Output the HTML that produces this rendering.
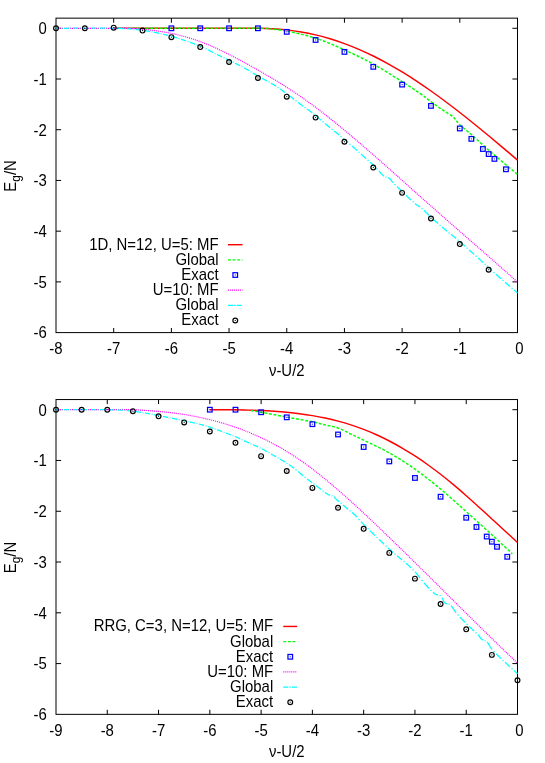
<!DOCTYPE html>
<html><head><meta charset="utf-8"><title>plot</title>
<style>
html,body{margin:0;padding:0;background:#fff;}
svg{display:block;will-change:transform;}
text{font-family:"Liberation Sans",sans-serif;font-size:15.8px;fill:#000;}
</style></head>
<body>
<svg width="545" height="763" viewBox="0 0 545 763">
<rect width="545" height="763" fill="#fff"/>
<rect x="56.00" y="18.15" width="461.50" height="314.45" fill="none" stroke="#000" stroke-width="1"/><path d="M113.69 332.60 v-4.60 M113.69 18.15 v4.60 M171.38 332.60 v-4.60 M171.38 18.15 v4.60 M229.06 332.60 v-4.60 M229.06 18.15 v4.60 M286.75 332.60 v-4.60 M286.75 18.15 v4.60 M344.44 332.60 v-4.60 M344.44 18.15 v4.60 M402.12 332.60 v-4.60 M402.12 18.15 v4.60 M459.81 332.60 v-4.60 M459.81 18.15 v4.60 M56.00 281.88 h5.10 M517.50 281.88 h-5.10 M56.00 231.16 h5.10 M517.50 231.16 h-5.10 M56.00 180.45 h5.10 M517.50 180.45 h-5.10 M56.00 129.73 h5.10 M517.50 129.73 h-5.10 M56.00 79.01 h5.10 M517.50 79.01 h-5.10 M56.00 28.29 h5.10 M517.50 28.29 h-5.10" stroke="#000" stroke-width="1" fill="none"/>
<path d="M113.69 28.29 C116.09 28.29 123.30 28.29 128.11 28.29 C132.92 28.29 137.72 28.29 142.53 28.29 C147.34 28.29 152.15 28.29 156.95 28.29 C161.76 28.29 166.57 28.29 171.38 28.29 C176.18 28.29 180.99 28.29 185.80 28.29 C190.60 28.29 195.41 28.29 200.22 28.29 C205.03 28.29 209.83 28.29 214.64 28.29 C219.45 28.29 224.26 28.29 229.06 28.29 C233.87 28.29 238.68 28.29 243.48 28.29 C248.29 28.29 253.10 28.23 257.91 28.29 C262.71 28.35 267.52 28.40 272.33 28.66 C277.14 28.92 281.94 29.31 286.75 29.86 C291.56 30.40 296.36 31.09 301.17 31.93 C305.98 32.77 310.79 33.77 315.59 34.91 C320.40 36.06 325.21 37.36 330.02 38.81 C334.82 40.26 339.63 41.86 344.44 43.61 C349.24 45.37 354.05 47.28 358.86 49.34 C363.67 51.41 368.47 53.63 373.28 56.00 C378.09 58.37 382.90 60.90 387.70 63.56 C392.51 66.23 397.32 69.05 402.12 71.98 C406.93 74.91 411.74 77.99 416.55 81.16 C421.35 84.34 426.16 87.64 430.97 91.03 C435.78 94.43 440.58 97.93 445.39 101.51 C450.20 105.09 455.01 108.77 459.81 112.51 C464.62 116.25 469.43 120.08 474.23 123.96 C479.04 127.83 483.85 131.78 488.66 135.76 C493.46 139.75 498.27 143.79 503.08 147.85 C507.89 151.92 515.10 158.10 517.50 160.15" fill="none" stroke="#ff0000" stroke-width="1.45" stroke-linejoin="round"/>
<path d="M113.69 28.29 C136.76 28.29 226.18 28.19 252.14 28.29 C278.10 28.39 263.68 28.44 269.44 28.90 C275.21 29.37 279.06 29.54 286.75 31.08 C294.44 32.63 305.98 35.06 315.59 38.18 C325.21 41.31 334.82 45.54 344.44 49.85 C354.05 54.16 363.67 58.75 373.28 64.05 C382.90 69.35 394.34 76.75 402.12 81.65 C409.91 86.55 415.20 90.14 420.01 93.47 C424.82 96.79 427.22 98.83 430.97 101.58 C434.72 104.33 439.02 107.56 442.51 109.95 C446.00 112.34 449.79 114.39 451.91 115.93 C454.02 117.48 453.88 117.78 455.20 119.23 C456.51 120.68 457.12 122.10 459.81 124.66 C462.50 127.21 467.50 131.17 471.35 134.55 C475.20 137.93 479.04 141.52 482.89 144.94 C486.73 148.37 488.66 150.19 494.42 155.09 C500.19 159.99 513.65 171.15 517.50 174.36" fill="none" stroke="#00ff00" stroke-width="1.45" stroke-dasharray="2.9 1.7" stroke-linejoin="round"/>
<rect x="169.07" y="25.99" width="4.60" height="4.60" fill="none" stroke="#0000ff" stroke-width="1.25"/><rect x="170.88" y="27.79" width="1" height="1" fill="#0000ff"/>
<rect x="197.92" y="25.99" width="4.60" height="4.60" fill="none" stroke="#0000ff" stroke-width="1.25"/><rect x="199.72" y="27.79" width="1" height="1" fill="#0000ff"/>
<rect x="226.76" y="25.99" width="4.60" height="4.60" fill="none" stroke="#0000ff" stroke-width="1.25"/><rect x="228.56" y="27.79" width="1" height="1" fill="#0000ff"/>
<rect x="255.61" y="25.99" width="4.60" height="4.60" fill="none" stroke="#0000ff" stroke-width="1.25"/><rect x="257.41" y="27.79" width="1" height="1" fill="#0000ff"/>
<rect x="284.45" y="29.54" width="4.60" height="4.60" fill="none" stroke="#0000ff" stroke-width="1.25"/><rect x="286.25" y="31.34" width="1" height="1" fill="#0000ff"/>
<rect x="313.29" y="37.66" width="4.60" height="4.60" fill="none" stroke="#0000ff" stroke-width="1.25"/><rect x="315.09" y="39.46" width="1" height="1" fill="#0000ff"/>
<rect x="342.14" y="49.58" width="4.60" height="4.60" fill="none" stroke="#0000ff" stroke-width="1.25"/><rect x="343.94" y="51.38" width="1" height="1" fill="#0000ff"/>
<rect x="370.98" y="64.54" width="4.60" height="4.60" fill="none" stroke="#0000ff" stroke-width="1.25"/><rect x="372.78" y="66.34" width="1" height="1" fill="#0000ff"/>
<rect x="399.82" y="82.29" width="4.60" height="4.60" fill="none" stroke="#0000ff" stroke-width="1.25"/><rect x="401.62" y="84.09" width="1" height="1" fill="#0000ff"/>
<rect x="428.67" y="103.59" width="4.60" height="4.60" fill="none" stroke="#0000ff" stroke-width="1.25"/><rect x="430.47" y="105.39" width="1" height="1" fill="#0000ff"/>
<rect x="457.51" y="126.16" width="4.60" height="4.60" fill="none" stroke="#0000ff" stroke-width="1.25"/><rect x="459.31" y="127.96" width="1" height="1" fill="#0000ff"/>
<rect x="469.05" y="136.56" width="4.60" height="4.60" fill="none" stroke="#0000ff" stroke-width="1.25"/><rect x="470.85" y="138.36" width="1" height="1" fill="#0000ff"/>
<rect x="480.59" y="146.70" width="4.60" height="4.60" fill="none" stroke="#0000ff" stroke-width="1.25"/><rect x="482.39" y="148.50" width="1" height="1" fill="#0000ff"/>
<rect x="486.36" y="151.77" width="4.60" height="4.60" fill="none" stroke="#0000ff" stroke-width="1.25"/><rect x="488.16" y="153.57" width="1" height="1" fill="#0000ff"/>
<rect x="492.12" y="156.59" width="4.60" height="4.60" fill="none" stroke="#0000ff" stroke-width="1.25"/><rect x="493.92" y="158.39" width="1" height="1" fill="#0000ff"/>
<rect x="503.66" y="166.99" width="4.60" height="4.60" fill="none" stroke="#0000ff" stroke-width="1.25"/><rect x="505.46" y="168.79" width="1" height="1" fill="#0000ff"/>
<path d="M56.00 28.29 C58.40 28.29 65.61 28.29 70.42 28.29 C75.23 28.29 80.04 28.29 84.84 28.29 C89.65 28.29 94.46 28.29 99.27 28.29 C104.07 28.29 108.88 28.29 113.69 28.29 C118.49 28.29 123.30 28.12 128.11 28.29 C132.92 28.46 137.72 28.87 142.53 29.31 C147.34 29.75 152.15 30.25 156.95 30.93 C161.76 31.62 166.57 32.41 171.38 33.41 C176.18 34.41 180.99 35.54 185.80 36.91 C190.60 38.27 195.41 39.82 200.22 41.59 C205.03 43.35 209.83 45.38 214.64 47.52 C219.45 49.67 224.26 52.04 229.06 54.46 C233.87 56.88 238.68 59.46 243.48 62.05 C248.29 64.64 253.10 67.29 257.91 70.01 C262.71 72.73 267.52 75.50 272.33 78.39 C277.14 81.27 281.94 84.23 286.75 87.32 C291.56 90.41 296.36 93.59 301.17 96.93 C305.98 100.27 310.79 103.75 315.59 107.34 C320.40 110.94 325.21 114.68 330.02 118.49 C334.82 122.30 339.63 126.23 344.44 130.21 C349.24 134.19 354.05 138.26 358.86 142.36 C363.67 146.47 368.47 150.64 373.28 154.84 C378.09 159.04 382.90 163.29 387.70 167.55 C392.51 171.80 397.32 176.10 402.12 180.38 C406.93 184.67 411.74 188.97 416.55 193.25 C421.35 197.53 426.16 201.81 430.97 206.06 C435.78 210.30 440.58 214.53 445.39 218.74 C450.20 222.96 455.01 227.15 459.81 231.34 C464.62 235.54 469.43 239.73 474.23 243.92 C479.04 248.12 483.85 252.32 488.66 256.54 C493.46 260.76 498.27 264.99 503.08 269.25 C507.89 273.52 515.10 279.97 517.50 282.12" fill="none" stroke="#ff00ff" stroke-width="1.2" stroke-dasharray="1 1" stroke-linejoin="round"/>
<path d="M56.00 28.29 L56.30 28.29 L56.60 28.29 L56.90 28.29 L57.20 28.29 L57.50 28.29 L57.80 28.29 L58.10 28.29 L58.40 28.29 L58.70 28.29 L59.00 28.29 L59.30 28.29 L59.60 28.28 L59.90 28.28 L60.10 28.28 M61.60 28.28 L61.90 28.27 L62.20 28.27 L62.50 28.27 M64.00 28.26 L64.30 28.26 L64.60 28.26 L64.90 28.26 L65.20 28.26 L65.50 28.25 L65.80 28.25 L66.10 28.25 L66.40 28.25 L66.70 28.25 L67.00 28.25 L67.30 28.24 L67.60 28.24 L67.90 28.24 L68.20 28.24 L68.50 28.24 L68.80 28.24 L69.10 28.23 M70.60 28.23 L70.90 28.22 L71.20 28.22 L71.50 28.22 M73.00 28.21 L73.30 28.21 L73.60 28.21 L73.90 28.21 L74.20 28.21 L74.50 28.21 L74.80 28.20 L75.10 28.20 L75.40 28.20 L75.70 28.20 L76.00 28.20 L76.30 28.20 L76.60 28.19 L76.90 28.19 L77.20 28.19 L77.50 28.19 L77.80 28.19 L78.10 28.19 M79.60 28.18 L79.90 28.18 L80.20 28.18 L80.50 28.18 M82.00 28.17 L82.30 28.17 L82.60 28.17 L82.90 28.17 L83.20 28.17 L83.50 28.17 L83.80 28.16 L84.10 28.16 L84.40 28.16 L84.70 28.16 L85.00 28.16 L85.30 28.16 L85.60 28.16 L85.90 28.16 L86.20 28.16 L86.50 28.16 L86.80 28.15 L87.10 28.15 M88.60 28.15 L88.90 28.15 L89.20 28.15 L89.50 28.15 M91.00 28.15 L91.30 28.15 L91.60 28.15 L91.90 28.14 L92.20 28.14 L92.50 28.14 L92.80 28.14 L93.10 28.14 L93.40 28.14 L93.70 28.14 L94.00 28.14 L94.30 28.14 L94.60 28.14 L94.90 28.14 L95.20 28.14 L95.50 28.14 L95.80 28.14 L96.10 28.14 M97.60 28.15 L97.90 28.15 L98.20 28.15 L98.50 28.15 M100.00 28.15 L100.30 28.15 L100.60 28.15 L100.90 28.15 L101.20 28.16 L101.50 28.16 L101.80 28.16 L102.10 28.16 L102.40 28.16 L102.70 28.16 L103.00 28.16 L103.30 28.17 L103.60 28.17 L103.90 28.17 L104.20 28.17 L104.50 28.17 L104.80 28.17 L105.10 28.18 M106.60 28.19 L106.90 28.19 L107.20 28.19 L107.50 28.20 M109.00 28.21 L109.30 28.22 L109.60 28.22 L109.90 28.23 L110.20 28.23 L110.50 28.23 L110.80 28.24 L111.10 28.24 L111.40 28.25 L111.70 28.25 L112.00 28.26 L112.30 28.27 L112.60 28.27 L112.90 28.28 L113.20 28.28 L113.50 28.29 L113.80 28.30 L114.10 28.30 M115.60 28.34 L115.90 28.35 L116.20 28.36 L116.50 28.36 M118.00 28.40 L118.30 28.41 L118.60 28.42 L118.90 28.43 L119.20 28.44 L119.50 28.45 L119.80 28.46 L120.10 28.47 L120.40 28.48 L120.70 28.49 L121.00 28.50 L121.30 28.51 L121.60 28.52 L121.90 28.53 L122.20 28.54 L122.50 28.55 L122.80 28.56 L123.10 28.57 M124.60 28.64 L124.90 28.65 L125.20 28.66 L125.50 28.68 M127.00 28.75 L127.30 28.77 L127.60 28.79 L127.90 28.80 L128.20 28.82 L128.50 28.84 L128.80 28.86 L129.10 28.88 L129.40 28.90 L129.70 28.92 L130.00 28.94 L130.30 28.96 L130.60 28.98 L130.90 29.01 L131.20 29.03 L131.50 29.06 L131.80 29.08 L132.10 29.10 M133.60 29.24 L133.90 29.27 L134.20 29.30 L134.50 29.33 M136.00 29.49 L136.30 29.52 L136.60 29.56 L136.90 29.59 L137.20 29.63 L137.50 29.66 L137.80 29.70 L138.10 29.74 L138.40 29.77 L138.70 29.81 L139.00 29.85 L139.30 29.89 L139.60 29.93 L139.90 29.97 L140.20 30.01 L140.50 30.05 L140.80 30.09 L141.10 30.13 M142.60 30.33 L142.90 30.37 L143.20 30.42 L143.50 30.46 M145.00 30.68 L145.30 30.73 L145.60 30.77 L145.90 30.82 L146.20 30.86 L146.50 30.91 L146.80 30.96 L147.10 31.01 L147.40 31.06 L147.70 31.11 L148.00 31.16 L148.30 31.20 L148.60 31.25 L148.90 31.31 L149.20 31.36 L149.50 31.41 L149.80 31.46 L150.10 31.51 M151.60 31.78 L151.90 31.84 L152.20 31.89 L152.50 31.95 M154.00 32.23 L154.30 32.29 L154.60 32.35 L154.90 32.41 L155.20 32.47 L155.50 32.53 L155.80 32.59 L156.10 32.65 L156.40 32.71 L156.70 32.77 L157.00 32.84 L157.30 32.90 L157.60 32.96 L157.90 33.03 L158.20 33.09 L158.50 33.15 L158.80 33.22 L159.10 33.28 M160.60 33.62 L160.90 33.68 L161.20 33.75 L161.50 33.82 M163.00 34.17 L163.30 34.24 L163.60 34.31 L163.90 34.38 L164.20 34.46 L164.50 34.53 L164.80 34.60 L165.10 34.68 L165.40 34.75 L165.70 34.82 L166.00 34.90 L166.30 34.97 L166.60 35.05 L166.90 35.13 L167.20 35.20 L167.50 35.28 L167.80 35.36 L168.10 35.43 M169.60 35.83 L169.90 35.91 L170.20 35.99 L170.50 36.07 M172.00 36.48 L172.30 36.56 L172.60 36.65 L172.90 36.73 L173.20 36.82 L173.50 36.91 L173.80 36.99 L174.10 37.08 L174.40 37.17 L174.70 37.26 L175.00 37.35 L175.30 37.44 L175.60 37.53 L175.90 37.62 L176.20 37.71 L176.50 37.80 L176.80 37.89 L177.10 37.99 M178.60 38.45 L178.90 38.55 L179.20 38.65 L179.50 38.74 M181.00 39.23 L181.30 39.32 L181.60 39.42 L181.90 39.52 L182.20 39.62 L182.50 39.72 L182.80 39.82 L183.10 39.92 L183.40 40.02 L183.70 40.12 L184.00 40.22 L184.30 40.33 L184.60 40.43 L184.90 40.53 L185.20 40.63 L185.50 40.73 L185.80 40.84 L186.10 40.94 M187.60 41.46 L187.90 41.57 L188.20 41.67 L188.50 41.78 M190.00 42.31 L190.30 42.42 L190.60 42.53 L190.90 42.64 L191.20 42.75 L191.50 42.85 L191.80 42.96 L192.10 43.07 L192.40 43.18 L192.70 43.29 L193.00 43.40 L193.30 43.51 L193.60 43.62 L193.90 43.73 L194.20 43.85 L194.50 43.96 L194.80 44.07 L195.10 44.18 M196.60 44.75 L196.90 44.86 L197.20 44.98 L197.50 45.09 M199.00 45.67 L199.30 45.79 L199.60 45.90 L199.90 46.02 L200.20 46.14 L200.50 46.26 L200.80 46.38 L201.10 46.50 L201.40 46.62 L201.70 46.75 L202.00 46.87 L202.30 47.00 L202.60 47.13 L202.90 47.26 L203.20 47.39 L203.50 47.53 L203.80 47.66 L204.10 47.80 M205.60 48.52 L205.90 48.67 L206.20 48.82 L206.50 48.97 M208.00 49.77 L208.30 49.93 L208.60 50.10 L208.90 50.26 L209.20 50.43 L209.50 50.60 L209.80 50.77 L210.10 50.94 L210.40 51.11 L210.70 51.28 L211.00 51.44 L211.30 51.61 L211.60 51.78 L211.90 51.94 L212.20 52.11 L212.50 52.27 L212.80 52.43 L213.10 52.59 M214.60 53.35 L214.90 53.50 L215.20 53.64 L215.50 53.79 M217.00 54.50 L217.30 54.64 L217.60 54.79 L217.90 54.93 L218.20 55.07 L218.50 55.21 L218.80 55.35 L219.10 55.49 L219.40 55.63 L219.70 55.77 L220.00 55.91 L220.30 56.05 L220.60 56.19 L220.90 56.32 L221.20 56.46 L221.50 56.60 L221.80 56.74 L222.10 56.88 M223.60 57.58 L223.90 57.72 L224.20 57.86 L224.50 58.00 M226.00 58.70 L226.30 58.84 L226.60 58.99 L226.90 59.13 L227.20 59.27 L227.50 59.42 L227.80 59.56 L228.10 59.71 L228.40 59.85 L228.70 60.00 L229.00 60.15 L229.30 60.29 L229.60 60.44 L229.90 60.59 L230.20 60.74 L230.50 60.89 L230.80 61.04 L231.10 61.18 M232.60 61.93 L232.90 62.08 L233.20 62.23 L233.50 62.38 M235.00 63.14 L235.30 63.29 L235.60 63.44 L235.90 63.60 L236.20 63.75 L236.50 63.90 L236.80 64.06 L237.10 64.21 L237.40 64.37 L237.70 64.52 L238.00 64.68 L238.30 64.83 L238.60 64.99 L238.90 65.14 L239.20 65.30 L239.50 65.46 L239.80 65.62 L240.10 65.77 M241.60 66.57 L241.90 66.73 L242.20 66.89 L242.50 67.05 M244.00 67.87 L244.30 68.04 L244.60 68.20 L244.90 68.37 L245.20 68.53 L245.50 68.70 L245.80 68.87 L246.10 69.04 L246.40 69.21 L246.70 69.38 L247.00 69.55 L247.30 69.72 L247.60 69.89 L247.90 70.06 L248.20 70.24 L248.50 70.41 L248.80 70.58 L249.10 70.76 M250.60 71.63 L250.90 71.80 L251.20 71.98 L251.50 72.15 M253.00 73.03 L253.30 73.21 L253.60 73.38 L253.90 73.56 L254.20 73.74 L254.50 73.91 L254.80 74.09 L255.10 74.26 L255.40 74.44 L255.70 74.62 L256.00 74.79 L256.30 74.97 L256.60 75.14 L256.90 75.32 L257.20 75.49 L257.50 75.67 L257.80 75.84 L258.10 76.02 M259.60 76.88 L259.90 77.06 L260.20 77.23 L260.50 77.40 M262.00 78.24 L262.30 78.41 L262.60 78.58 L262.90 78.74 L263.20 78.91 L263.50 79.08 L263.80 79.24 L264.10 79.41 L264.40 79.57 L264.70 79.74 L265.00 79.90 L265.30 80.06 L265.60 80.23 L265.90 80.39 L266.20 80.56 L266.50 80.72 L266.80 80.88 L267.10 81.05 M268.60 81.87 L268.90 82.04 L269.20 82.21 L269.50 82.37 M271.00 83.22 L271.30 83.39 L271.60 83.56 L271.90 83.73 L272.20 83.91 L272.50 84.08 L272.80 84.26 L273.10 84.43 L273.40 84.61 L273.70 84.79 L274.00 84.98 L274.30 85.16 L274.60 85.34 L274.90 85.53 L275.20 85.72 L275.50 85.91 L275.80 86.10 L276.10 86.29 M277.60 87.27 L277.90 87.47 L278.20 87.67 L278.50 87.87 M280.00 88.90 L280.30 89.11 L280.60 89.32 L280.90 89.53 L281.20 89.74 L281.50 89.96 L281.80 90.17 L282.10 90.39 L282.40 90.60 L282.70 90.82 L283.00 91.03 L283.30 91.25 L283.60 91.47 L283.90 91.69 L284.20 91.91 L284.50 92.12 L284.80 92.34 L285.10 92.56 M286.60 93.66 L286.90 93.88 L287.20 94.10 L287.50 94.33 M289.00 95.46 L289.30 95.69 L289.60 95.92 L289.90 96.15 L290.20 96.38 L290.50 96.62 L290.80 96.85 L291.10 97.08 L291.40 97.31 L291.70 97.55 L292.00 97.78 L292.30 98.02 L292.60 98.25 L292.90 98.49 L293.20 98.72 L293.50 98.96 L293.80 99.19 L294.10 99.43 M295.60 100.59 L295.90 100.83 L296.20 101.06 L296.50 101.29 M298.00 102.43 L298.30 102.66 L298.60 102.88 L298.90 103.10 L299.20 103.32 L299.50 103.54 L299.80 103.77 L300.10 103.99 L300.40 104.20 L300.70 104.42 L301.00 104.64 L301.30 104.86 L301.60 105.07 L301.90 105.29 L302.20 105.51 L302.50 105.72 L302.80 105.94 L303.10 106.15 M304.60 107.22 L304.90 107.44 L305.20 107.65 L305.50 107.87 M307.00 108.94 L307.30 109.16 L307.60 109.38 L307.90 109.60 L308.20 109.81 L308.50 110.04 L308.80 110.26 L309.10 110.47 L309.40 110.69 L309.70 110.91 L310.00 111.12 L310.30 111.33 L310.60 111.55 L310.90 111.76 L311.20 111.98 L311.50 112.20 L311.80 112.43 L312.10 112.66 M313.60 113.84 L313.90 114.09 L314.20 114.33 L314.50 114.58 M316.00 115.82 L316.30 116.07 L316.60 116.33 L316.90 116.58 L317.20 116.83 L317.50 117.09 L317.80 117.34 L318.10 117.60 L318.40 117.86 L318.70 118.11 L319.00 118.37 L319.30 118.62 L319.60 118.88 L319.90 119.14 L320.20 119.39 L320.50 119.65 L320.80 119.91 L321.10 120.17 M322.60 121.45 L322.90 121.71 L323.20 121.96 L323.50 122.22 M325.00 123.50 L325.30 123.76 L325.60 124.01 L325.90 124.27 L326.20 124.52 L326.50 124.78 L326.80 125.03 L327.10 125.28 L327.40 125.54 L327.70 125.79 L328.00 126.04 L328.30 126.29 L328.60 126.54 L328.90 126.79 L329.20 127.04 L329.50 127.29 L329.80 127.54 L330.10 127.79 M331.60 129.00 L331.90 129.25 L332.20 129.49 L332.50 129.73 M334.00 130.92 L334.30 131.16 L334.60 131.40 L334.90 131.63 L335.20 131.87 L335.50 132.11 L335.80 132.34 L336.10 132.58 L336.40 132.82 L336.70 133.05 L337.00 133.29 L337.30 133.53 L337.60 133.77 L337.90 134.00 L338.20 134.24 L338.50 134.48 L338.80 134.72 L339.10 134.96 M340.60 136.18 L340.90 136.42 L341.20 136.67 L341.50 136.91 M343.00 138.17 L343.30 138.42 L343.60 138.67 L343.90 138.93 L344.20 139.18 L344.50 139.43 L344.80 139.69 L345.10 139.94 L345.40 140.20 L345.70 140.46 L346.00 140.71 L346.30 140.97 L346.60 141.23 L346.90 141.49 L347.20 141.75 L347.50 142.01 L347.80 142.27 L348.10 142.53 M349.60 143.84 L349.90 144.10 L350.20 144.36 L350.50 144.62 M352.00 145.95 L352.30 146.21 L352.60 146.48 L352.90 146.74 L353.20 147.01 L353.50 147.27 L353.80 147.54 L354.10 147.80 L354.40 148.07 L354.70 148.34 L355.00 148.60 L355.30 148.87 L355.60 149.14 L355.90 149.41 L356.20 149.68 L356.50 149.95 L356.80 150.22 L357.10 150.49 M358.60 151.84 L358.90 152.12 L359.20 152.39 L359.50 152.66 M361.00 154.02 L361.30 154.30 L361.60 154.57 L361.90 154.84 L362.20 155.12 L362.50 155.39 L362.80 155.66 L363.10 155.94 L363.40 156.21 L363.70 156.49 L364.00 156.76 L364.30 157.03 L364.60 157.31 L364.90 157.58 L365.20 157.85 L365.50 158.13 L365.80 158.40 L366.10 158.68 M367.60 160.04 L367.90 160.31 L368.20 160.58 L368.50 160.86 M370.00 162.20 L370.30 162.46 L370.60 162.73 L370.90 162.99 L371.20 163.24 L371.50 163.49 L371.80 163.73 L372.10 163.96 L372.40 164.20 L372.70 164.45 L373.00 164.71 L373.30 165.00 L373.60 165.28 L373.90 165.58 L374.20 165.88 L374.50 166.19 L374.80 166.50 L375.10 166.81 M376.60 168.41 L376.90 168.73 L377.20 169.04 L377.50 169.36 M379.00 171.03 L379.30 171.38 L379.60 171.72 L379.90 172.07 L380.20 172.41 L380.50 172.75 L380.80 173.08 L381.10 173.41 L381.40 173.74 L381.70 174.05 L382.00 174.37 L382.30 174.67 L382.60 174.96 L382.90 175.24 L383.20 175.51 L383.50 175.76 L383.80 175.99 L384.10 176.20 M385.60 176.95 L385.90 177.06 L386.20 177.16 L386.50 177.26 M388.00 177.72 L388.30 177.83 L388.60 177.95 L388.90 178.10 L389.20 178.27 L389.50 178.47 L389.80 178.70 L390.10 178.96 L390.40 179.27 L390.70 179.61 L391.00 180.00 L391.30 180.40 L391.60 180.82 L391.90 181.22 L392.20 181.60 L392.50 181.96 L392.80 182.30 L393.10 182.62 M394.60 184.17 L394.90 184.47 L395.20 184.78 L395.50 185.08 M397.00 186.56 L397.30 186.85 L397.60 187.14 L397.90 187.43 L398.20 187.72 L398.50 188.01 L398.80 188.30 L399.10 188.59 L399.40 188.88 L399.70 189.17 L400.00 189.46 L400.30 189.74 L400.60 190.03 L400.90 190.32 L401.20 190.61 L401.50 190.90 L401.80 191.19 L402.10 191.48 M403.60 192.93 L403.90 193.21 L404.20 193.50 L404.50 193.79 M406.00 195.23 L406.30 195.52 L406.60 195.80 L406.90 196.09 L407.20 196.38 L407.50 196.66 L407.80 196.95 L408.10 197.23 L408.40 197.52 L408.70 197.80 L409.00 198.09 L409.30 198.37 L409.60 198.65 L409.90 198.94 L410.20 199.22 L410.50 199.50 L410.80 199.78 L411.10 200.06 M412.60 201.44 L412.90 201.72 L413.20 201.99 L413.50 202.26 M415.00 203.57 L415.30 203.82 L415.60 204.06 L415.90 204.29 L416.20 204.52 L416.50 204.73 L416.80 204.94 L417.10 205.14 L417.40 205.33 L417.70 205.52 L418.00 205.70 L418.30 205.87 L418.60 206.05 L418.90 206.23 L419.20 206.41 L419.50 206.61 L419.80 206.81 L420.10 207.03 M421.60 208.22 L421.90 208.48 L422.20 208.75 L422.50 209.02 M424.00 210.41 L424.30 210.69 L424.60 210.98 L424.90 211.26 L425.20 211.55 L425.50 211.84 L425.80 212.14 L426.10 212.43 L426.40 212.72 L426.70 213.01 L427.00 213.31 L427.30 213.60 L427.60 213.89 L427.90 214.19 L428.20 214.48 L428.50 214.77 L428.80 215.07 L429.10 215.36 M430.60 216.82 L430.90 217.11 L431.20 217.39 L431.50 217.68 M433.00 219.10 L433.30 219.37 L433.60 219.65 L433.90 219.93 L434.20 220.20 L434.50 220.47 L434.80 220.74 L435.10 221.01 L435.40 221.27 L435.70 221.54 L436.00 221.80 L436.30 222.06 L436.60 222.32 L436.90 222.58 L437.20 222.85 L437.50 223.10 L437.80 223.36 L438.10 223.62 M439.60 224.90 L439.90 225.16 L440.20 225.41 L440.50 225.66 M442.00 226.92 L442.30 227.18 L442.60 227.43 L442.90 227.68 L443.20 227.93 L443.50 228.18 L443.80 228.43 L444.10 228.68 L444.40 228.93 L444.70 229.18 L445.00 229.43 L445.30 229.67 L445.60 229.92 L445.90 230.17 L446.20 230.42 L446.50 230.67 L446.80 230.92 L447.10 231.16 M448.60 232.41 L448.90 232.65 L449.20 232.90 L449.50 233.15 M451.00 234.37 L451.30 234.61 L451.60 234.84 L451.90 235.08 L452.20 235.31 L452.50 235.53 L452.80 235.76 L453.10 235.98 L453.40 236.21 L453.70 236.44 L454.00 236.67 L454.30 236.91 L454.60 237.15 L454.90 237.40 L455.20 237.65 L455.50 237.90 L455.80 238.15 L456.10 238.41 M457.60 239.70 L457.90 239.97 L458.20 240.23 L458.50 240.49 M460.00 241.82 L460.30 242.09 L460.60 242.35 L460.90 242.62 L461.20 242.89 L461.50 243.16 L461.80 243.42 L462.10 243.69 L462.40 243.96 L462.70 244.23 L463.00 244.50 L463.30 244.77 L463.60 245.04 L463.90 245.31 L464.20 245.58 L464.50 245.84 L464.80 246.11 L465.10 246.38 M466.60 247.73 L466.90 248.00 L467.20 248.27 L467.50 248.54 M469.00 249.88 L469.30 250.15 L469.60 250.42 L469.90 250.69 L470.20 250.96 L470.50 251.22 L470.80 251.49 L471.10 251.76 L471.40 252.03 L471.70 252.30 L472.00 252.56 L472.30 252.83 L472.60 253.10 L472.90 253.37 L473.20 253.64 L473.50 253.90 L473.80 254.17 L474.10 254.44 M475.60 255.78 L475.90 256.05 L476.20 256.32 L476.50 256.59 M478.00 257.93 L478.30 258.20 L478.60 258.47 L478.90 258.74 L479.20 259.01 L479.50 259.28 L479.80 259.55 L480.10 259.81 L480.40 260.08 L480.70 260.35 L481.00 260.62 L481.30 260.89 L481.60 261.16 L481.90 261.43 L482.20 261.70 L482.50 261.97 L482.80 262.24 L483.10 262.51 M484.60 263.87 L484.90 264.14 L485.20 264.41 L485.50 264.68 M487.00 266.06 L487.30 266.33 L487.60 266.61 L487.90 266.89 L488.20 267.16 L488.50 267.44 L488.80 267.72 L489.10 268.00 L489.40 268.27 L489.70 268.55 L490.00 268.83 L490.30 269.10 L490.60 269.38 L490.90 269.66 L491.20 269.93 L491.50 270.21 L491.80 270.49 L492.10 270.76 M493.60 272.13 L493.90 272.40 L494.20 272.67 L494.50 272.94 M496.00 274.28 L496.30 274.55 L496.60 274.82 L496.90 275.08 L497.20 275.35 L497.50 275.61 L497.80 275.88 L498.10 276.14 L498.40 276.41 L498.70 276.67 L499.00 276.93 L499.30 277.20 L499.60 277.46 L499.90 277.72 L500.20 277.99 L500.50 278.25 L500.80 278.51 L501.10 278.78 M502.60 280.09 L502.90 280.35 L503.20 280.61 L503.50 280.87 M505.00 282.18 L505.30 282.44 L505.60 282.70 L505.90 282.96 L506.20 283.22 L506.50 283.48 L506.80 283.75 L507.10 284.01 L507.40 284.27 L507.70 284.53 L508.00 284.79 L508.30 285.05 L508.60 285.31 L508.90 285.57 L509.20 285.83 L509.50 286.09 L509.80 286.35 L510.10 286.61 M511.60 287.92 L511.90 288.18 L512.20 288.44 L512.50 288.70 M514.00 290.00 L514.30 290.26 L514.60 290.52 L514.90 290.78 L515.20 291.04 L515.50 291.30 L515.80 291.56 L516.10 291.82 L516.40 292.08 L516.70 292.34 L517.00 292.60 L517.30 292.87 L517.50 293.04" fill="none" stroke="#00ffff" stroke-width="1.25"/>
<circle cx="56.00" cy="28.29" r="2.4" fill="none" stroke="#000" stroke-width="1.15"/><rect x="55.50" y="27.79" width="1" height="1" fill="#000"/>
<circle cx="84.84" cy="28.29" r="2.4" fill="none" stroke="#000" stroke-width="1.15"/><rect x="84.34" y="27.79" width="1" height="1" fill="#000"/>
<circle cx="113.69" cy="27.68" r="2.4" fill="none" stroke="#000" stroke-width="1.15"/><rect x="113.19" y="27.18" width="1" height="1" fill="#000"/>
<circle cx="142.53" cy="30.58" r="2.4" fill="none" stroke="#000" stroke-width="1.15"/><rect x="142.03" y="30.08" width="1" height="1" fill="#000"/>
<circle cx="171.38" cy="37.17" r="2.4" fill="none" stroke="#000" stroke-width="1.15"/><rect x="170.88" y="36.67" width="1" height="1" fill="#000"/>
<circle cx="200.22" cy="47.06" r="2.4" fill="none" stroke="#000" stroke-width="1.15"/><rect x="199.72" y="46.56" width="1" height="1" fill="#000"/>
<circle cx="229.06" cy="62.02" r="2.4" fill="none" stroke="#000" stroke-width="1.15"/><rect x="228.56" y="61.52" width="1" height="1" fill="#000"/>
<circle cx="257.91" cy="78.00" r="2.4" fill="none" stroke="#000" stroke-width="1.15"/><rect x="257.41" y="77.50" width="1" height="1" fill="#000"/>
<circle cx="286.75" cy="96.66" r="2.4" fill="none" stroke="#000" stroke-width="1.15"/><rect x="286.25" y="96.16" width="1" height="1" fill="#000"/>
<circle cx="315.59" cy="117.61" r="2.4" fill="none" stroke="#000" stroke-width="1.15"/><rect x="315.09" y="117.11" width="1" height="1" fill="#000"/>
<circle cx="344.44" cy="141.75" r="2.4" fill="none" stroke="#000" stroke-width="1.15"/><rect x="343.94" y="141.25" width="1" height="1" fill="#000"/>
<circle cx="373.28" cy="167.46" r="2.4" fill="none" stroke="#000" stroke-width="1.15"/><rect x="372.78" y="166.96" width="1" height="1" fill="#000"/>
<circle cx="402.12" cy="192.87" r="2.4" fill="none" stroke="#000" stroke-width="1.15"/><rect x="401.62" y="192.37" width="1" height="1" fill="#000"/>
<circle cx="430.97" cy="218.59" r="2.4" fill="none" stroke="#000" stroke-width="1.15"/><rect x="430.47" y="218.09" width="1" height="1" fill="#000"/>
<circle cx="459.81" cy="244.05" r="2.4" fill="none" stroke="#000" stroke-width="1.15"/><rect x="459.31" y="243.55" width="1" height="1" fill="#000"/>
<circle cx="488.66" cy="269.71" r="2.4" fill="none" stroke="#000" stroke-width="1.15"/><rect x="488.16" y="269.21" width="1" height="1" fill="#000"/>
<text transform="translate(56.00 353.80) scale(0.9456 1)" text-anchor="middle">-8</text>
<text transform="translate(113.69 353.80) scale(0.9456 1)" text-anchor="middle">-7</text>
<text transform="translate(171.38 353.80) scale(0.9456 1)" text-anchor="middle">-6</text>
<text transform="translate(229.06 353.80) scale(0.9456 1)" text-anchor="middle">-5</text>
<text transform="translate(286.75 353.80) scale(0.9456 1)" text-anchor="middle">-4</text>
<text transform="translate(344.44 353.80) scale(0.9456 1)" text-anchor="middle">-3</text>
<text transform="translate(402.12 353.80) scale(0.9456 1)" text-anchor="middle">-2</text>
<text transform="translate(459.81 353.80) scale(0.9456 1)" text-anchor="middle">-1</text>
<text transform="translate(519.50 353.80) scale(0.9456 1)" text-anchor="middle">0</text>
<text transform="translate(46.70 338.40) scale(0.9456 1)" text-anchor="end">-6</text>
<text transform="translate(46.70 287.68) scale(0.9456 1)" text-anchor="end">-5</text>
<text transform="translate(46.70 236.96) scale(0.9456 1)" text-anchor="end">-4</text>
<text transform="translate(46.70 186.25) scale(0.9456 1)" text-anchor="end">-3</text>
<text transform="translate(46.70 135.53) scale(0.9456 1)" text-anchor="end">-2</text>
<text transform="translate(46.70 84.81) scale(0.9456 1)" text-anchor="end">-1</text>
<text transform="translate(46.70 34.09) scale(0.9456 1)" text-anchor="end">0</text>
<text transform="translate(286.75 375.60) scale(0.9456 1)" text-anchor="middle">ν-U/2</text>
<text transform="translate(15.6 175.88) rotate(-90) scale(0.9456 1)" text-anchor="middle">E<tspan dy="4.5" font-size="12.6">g</tspan><tspan dy="-4.5">/N</tspan></text>
<text transform="translate(218.60 249.60) scale(0.9456 1)" text-anchor="end">1D, N=12, U=5: MF</text>
<text transform="translate(218.60 264.76) scale(0.9456 1)" text-anchor="end">Global</text>
<text transform="translate(218.60 279.92) scale(0.9456 1)" text-anchor="end">Exact</text>
<text transform="translate(218.60 295.08) scale(0.9456 1)" text-anchor="end">U=10: MF</text>
<text transform="translate(218.60 310.24) scale(0.9456 1)" text-anchor="end">Global</text>
<text transform="translate(218.60 325.40) scale(0.9456 1)" text-anchor="end">Exact</text>
<path d="M228.00 244.70 H242.50" fill="none" stroke="#ff0000" stroke-width="1.45"/>
<path d="M228.00 259.86 H242.50" fill="none" stroke="#00ff00" stroke-width="1.45" stroke-dasharray="2.9 1.7"/>
<rect x="232.95" y="272.72" width="4.60" height="4.60" fill="none" stroke="#0000ff" stroke-width="1.25"/><rect x="234.75" y="274.52" width="1" height="1" fill="#0000ff"/>
<path d="M228.00 290.18 H242.50" fill="none" stroke="#ff00ff" stroke-width="1.2" stroke-dasharray="1 1"/>
<path d="M228.00 305.34 H242.50" fill="none" stroke="#00ffff" stroke-width="1.25" stroke-dasharray="5.0 1.2 1.3 1.2"/>
<circle cx="235.25" cy="320.50" r="2.4" fill="none" stroke="#000" stroke-width="1.15"/><rect x="234.75" y="320.00" width="1" height="1" fill="#000"/>
<rect x="56.00" y="399.55" width="461.50" height="314.80" fill="none" stroke="#000" stroke-width="1"/><path d="M107.28 714.35 v-4.60 M107.28 399.55 v4.60 M158.56 714.35 v-4.60 M158.56 399.55 v4.60 M209.83 714.35 v-4.60 M209.83 399.55 v4.60 M261.11 714.35 v-4.60 M261.11 399.55 v4.60 M312.39 714.35 v-4.60 M312.39 399.55 v4.60 M363.67 714.35 v-4.60 M363.67 399.55 v4.60 M414.94 714.35 v-4.60 M414.94 399.55 v4.60 M466.22 714.35 v-4.60 M466.22 399.55 v4.60 M56.00 663.58 h5.10 M517.50 663.58 h-5.10 M56.00 612.80 h5.10 M517.50 612.80 h-5.10 M56.00 562.03 h5.10 M517.50 562.03 h-5.10 M56.00 511.25 h5.10 M517.50 511.25 h-5.10 M56.00 460.48 h5.10 M517.50 460.48 h-5.10 M56.00 409.70 h5.10 M517.50 409.70 h-5.10" stroke="#000" stroke-width="1" fill="none"/>
<path d="M209.83 409.70 C211.97 409.70 218.38 409.70 222.65 409.70 C226.93 409.70 231.20 409.63 235.47 409.70 C239.75 409.78 244.02 410.00 248.29 410.15 C252.56 410.29 256.84 410.40 261.11 410.59 C265.38 410.77 269.66 410.99 273.93 411.27 C278.20 411.56 282.48 411.88 286.75 412.29 C291.02 412.69 295.30 413.15 299.57 413.70 C303.84 414.25 308.12 414.87 312.39 415.59 C316.66 416.31 320.94 417.11 325.21 418.02 C329.48 418.94 333.75 419.95 338.03 421.09 C342.30 422.23 346.57 423.47 350.85 424.85 C355.12 426.24 359.39 427.74 363.67 429.39 C367.94 431.05 372.21 432.84 376.49 434.77 C380.76 436.71 385.03 438.78 389.31 441.00 C393.58 443.21 397.85 445.57 402.12 448.07 C406.40 450.57 410.67 453.20 414.94 455.98 C419.22 458.76 423.49 461.67 427.76 464.73 C432.04 467.78 436.31 470.98 440.58 474.30 C444.86 477.63 449.13 481.11 453.40 484.68 C457.68 488.24 461.95 491.95 466.22 495.69 C470.50 499.44 474.77 503.30 479.04 507.17 C483.31 511.04 487.59 514.98 491.86 518.91 C496.13 522.84 500.41 526.81 504.68 530.74 C508.95 534.67 515.36 540.51 517.50 542.47" fill="none" stroke="#ff0000" stroke-width="1.45" stroke-linejoin="round"/>
<path d="M250.86 410.47 C252.56 410.76 255.13 411.14 261.11 412.24 C267.09 413.34 278.20 415.48 286.75 417.07 C295.30 418.66 305.98 420.48 312.39 421.79 C318.80 423.10 320.94 423.90 325.21 424.94 C329.48 425.97 333.75 426.46 338.03 427.98 C342.30 429.51 346.57 432.05 350.85 434.08 C355.12 436.11 357.26 437.04 363.67 440.17 C370.08 443.30 380.76 448.02 389.31 452.86 C397.85 457.70 406.40 463.18 414.94 469.21 C423.49 475.25 432.04 481.99 440.58 489.06 C449.13 496.14 457.68 504.04 466.22 511.66 C474.77 519.28 484.17 527.72 491.86 534.76 C499.55 541.80 508.95 550.71 512.37 553.90" fill="none" stroke="#00ff00" stroke-width="1.45" stroke-dasharray="2.9 1.7" stroke-linejoin="round"/>
<rect x="207.53" y="407.40" width="4.60" height="4.60" fill="none" stroke="#0000ff" stroke-width="1.25"/><rect x="209.33" y="409.20" width="1" height="1" fill="#0000ff"/>
<rect x="233.17" y="407.40" width="4.60" height="4.60" fill="none" stroke="#0000ff" stroke-width="1.25"/><rect x="234.97" y="409.20" width="1" height="1" fill="#0000ff"/>
<rect x="258.81" y="409.94" width="4.60" height="4.60" fill="none" stroke="#0000ff" stroke-width="1.25"/><rect x="260.61" y="411.74" width="1" height="1" fill="#0000ff"/>
<rect x="284.45" y="415.02" width="4.60" height="4.60" fill="none" stroke="#0000ff" stroke-width="1.25"/><rect x="286.25" y="416.82" width="1" height="1" fill="#0000ff"/>
<rect x="310.09" y="421.88" width="4.60" height="4.60" fill="none" stroke="#0000ff" stroke-width="1.25"/><rect x="311.89" y="423.68" width="1" height="1" fill="#0000ff"/>
<rect x="335.73" y="432.18" width="4.60" height="4.60" fill="none" stroke="#0000ff" stroke-width="1.25"/><rect x="337.53" y="433.98" width="1" height="1" fill="#0000ff"/>
<rect x="361.37" y="444.72" width="4.60" height="4.60" fill="none" stroke="#0000ff" stroke-width="1.25"/><rect x="363.17" y="446.52" width="1" height="1" fill="#0000ff"/>
<rect x="387.01" y="459.09" width="4.60" height="4.60" fill="none" stroke="#0000ff" stroke-width="1.25"/><rect x="388.81" y="460.89" width="1" height="1" fill="#0000ff"/>
<rect x="412.64" y="475.65" width="4.60" height="4.60" fill="none" stroke="#0000ff" stroke-width="1.25"/><rect x="414.44" y="477.45" width="1" height="1" fill="#0000ff"/>
<rect x="438.28" y="494.43" width="4.60" height="4.60" fill="none" stroke="#0000ff" stroke-width="1.25"/><rect x="440.08" y="496.23" width="1" height="1" fill="#0000ff"/>
<rect x="463.92" y="515.45" width="4.60" height="4.60" fill="none" stroke="#0000ff" stroke-width="1.25"/><rect x="465.72" y="517.25" width="1" height="1" fill="#0000ff"/>
<rect x="474.18" y="524.69" width="4.60" height="4.60" fill="none" stroke="#0000ff" stroke-width="1.25"/><rect x="475.98" y="526.49" width="1" height="1" fill="#0000ff"/>
<rect x="484.43" y="534.24" width="4.60" height="4.60" fill="none" stroke="#0000ff" stroke-width="1.25"/><rect x="486.23" y="536.04" width="1" height="1" fill="#0000ff"/>
<rect x="489.56" y="539.42" width="4.60" height="4.60" fill="none" stroke="#0000ff" stroke-width="1.25"/><rect x="491.36" y="541.22" width="1" height="1" fill="#0000ff"/>
<rect x="494.69" y="544.50" width="4.60" height="4.60" fill="none" stroke="#0000ff" stroke-width="1.25"/><rect x="496.49" y="546.30" width="1" height="1" fill="#0000ff"/>
<rect x="504.94" y="554.50" width="4.60" height="4.60" fill="none" stroke="#0000ff" stroke-width="1.25"/><rect x="506.74" y="556.30" width="1" height="1" fill="#0000ff"/>
<path d="M56.00 409.70 C58.14 409.70 64.55 409.70 68.82 409.70 C73.09 409.70 77.37 409.70 81.64 409.70 C85.91 409.70 90.19 409.70 94.46 409.70 C98.73 409.70 103.00 409.70 107.28 409.70 C111.55 409.70 115.82 409.70 120.10 409.70 C124.37 409.70 128.64 409.58 132.92 409.70 C137.19 409.83 141.46 410.18 145.74 410.47 C150.01 410.75 154.28 411.04 158.56 411.42 C162.83 411.80 167.10 412.23 171.38 412.75 C175.65 413.27 179.92 413.86 184.19 414.53 C188.47 415.21 192.74 415.96 197.01 416.81 C201.29 417.67 205.56 418.60 209.83 419.65 C214.11 420.70 218.38 421.84 222.65 423.10 C226.93 424.37 231.20 425.73 235.47 427.23 C239.75 428.73 244.02 430.33 248.29 432.08 C252.56 433.82 256.84 435.69 261.11 437.70 C265.38 439.71 269.66 441.85 273.93 444.15 C278.20 446.44 282.48 448.87 286.75 451.48 C291.02 454.08 295.30 456.83 299.57 459.75 C303.84 462.68 308.12 465.79 312.39 469.02 C316.66 472.26 320.94 475.67 325.21 479.17 C329.48 482.67 333.75 486.31 338.03 490.01 C342.30 493.71 346.57 497.52 350.85 501.37 C355.12 505.22 359.39 509.15 363.67 513.12 C367.94 517.09 372.21 521.12 376.49 525.18 C380.76 529.24 385.03 533.35 389.31 537.47 C393.58 541.60 397.85 545.76 402.12 549.93 C406.40 554.10 410.67 558.30 414.94 562.50 C419.22 566.71 423.49 570.93 427.76 575.16 C432.04 579.38 436.31 583.63 440.58 587.86 C444.86 592.10 449.13 596.35 453.40 600.58 C457.68 604.82 461.95 609.06 466.22 613.28 C470.50 617.51 474.77 621.73 479.04 625.93 C483.31 630.13 487.59 634.32 491.86 638.48 C496.13 642.65 500.41 646.80 504.68 650.91 C508.95 655.03 515.36 661.14 517.50 663.18" fill="none" stroke="#ff00ff" stroke-width="1.2" stroke-dasharray="1 1" stroke-linejoin="round"/>
<path d="M56.00 409.70 L56.30 409.70 L56.60 409.70 L56.90 409.70 L57.20 409.70 L57.50 409.70 L57.80 409.70 L58.10 409.70 L58.40 409.70 L58.70 409.70 L59.00 409.70 L59.30 409.70 L59.60 409.70 L59.90 409.70 L60.10 409.69 M61.60 409.69 L61.90 409.69 L62.20 409.69 L62.50 409.68 M64.00 409.68 L64.30 409.68 L64.60 409.67 L64.90 409.67 L65.20 409.67 L65.50 409.67 L65.80 409.67 L66.10 409.67 L66.40 409.67 L66.70 409.66 L67.00 409.66 L67.30 409.66 L67.60 409.66 L67.90 409.66 L68.20 409.66 L68.50 409.66 L68.80 409.66 L69.10 409.65 M70.60 409.65 L70.90 409.65 L71.20 409.64 L71.50 409.64 M73.00 409.64 L73.30 409.63 L73.60 409.63 L73.90 409.63 L74.20 409.63 L74.50 409.63 L74.80 409.63 L75.10 409.63 L75.40 409.63 L75.70 409.63 L76.00 409.62 L76.30 409.62 L76.60 409.62 L76.90 409.62 L77.20 409.62 L77.50 409.62 L77.80 409.62 L78.10 409.62 M79.60 409.61 L79.90 409.61 L80.20 409.61 L80.50 409.61 M82.00 409.60 L82.30 409.60 L82.60 409.60 L82.90 409.60 L83.20 409.60 L83.50 409.60 L83.80 409.60 L84.10 409.60 L84.40 409.60 L84.70 409.60 L85.00 409.60 L85.30 409.60 L85.60 409.60 L85.90 409.60 L86.20 409.60 L86.50 409.59 L86.80 409.59 L87.10 409.59 M88.60 409.59 L88.90 409.59 L89.20 409.59 L89.50 409.59 M91.00 409.59 L91.30 409.59 L91.60 409.59 L91.90 409.59 L92.20 409.59 L92.50 409.59 L92.80 409.59 L93.10 409.59 L93.40 409.59 L93.70 409.60 L94.00 409.60 L94.30 409.60 L94.60 409.60 L94.90 409.60 L95.20 409.60 L95.50 409.60 L95.80 409.60 L96.10 409.60 M97.60 409.61 L97.90 409.61 L98.20 409.61 L98.50 409.61 M100.00 409.62 L100.30 409.62 L100.60 409.62 L100.90 409.63 L101.20 409.63 L101.50 409.63 L101.80 409.63 L102.10 409.64 L102.40 409.64 L102.70 409.64 L103.00 409.64 L103.30 409.65 L103.60 409.65 L103.90 409.65 L104.20 409.66 L104.50 409.66 L104.80 409.67 L105.10 409.67 M106.60 409.69 L106.90 409.70 L107.20 409.70 L107.50 409.71 M109.00 409.74 L109.30 409.75 L109.60 409.75 L109.90 409.76 L110.20 409.77 L110.50 409.77 L110.80 409.78 L111.10 409.79 L111.40 409.80 L111.70 409.80 L112.00 409.81 L112.30 409.82 L112.60 409.83 L112.90 409.83 L113.20 409.84 L113.50 409.85 L113.80 409.86 L114.10 409.87 M115.60 409.92 L115.90 409.93 L116.20 409.94 L116.50 409.95 M118.00 410.01 L118.30 410.02 L118.60 410.03 L118.90 410.05 L119.20 410.06 L119.50 410.08 L119.80 410.09 L120.10 410.11 L120.40 410.12 L120.70 410.14 L121.00 410.16 L121.30 410.17 L121.60 410.19 L121.90 410.21 L122.20 410.23 L122.50 410.25 L122.80 410.27 L123.10 410.29 M124.60 410.40 L124.90 410.42 L125.20 410.45 L125.50 410.47 M127.00 410.61 L127.30 410.63 L127.60 410.66 L127.90 410.69 L128.20 410.72 L128.50 410.75 L128.80 410.78 L129.10 410.81 L129.40 410.84 L129.70 410.87 L130.00 410.91 L130.30 410.94 L130.60 410.97 L130.90 411.00 L131.20 411.04 L131.50 411.07 L131.80 411.10 L132.10 411.14 M133.60 411.31 L133.90 411.34 L134.20 411.38 L134.50 411.42 M136.00 411.61 L136.30 411.65 L136.60 411.70 L136.90 411.74 L137.20 411.78 L137.50 411.82 L137.80 411.87 L138.10 411.91 L138.40 411.96 L138.70 412.00 L139.00 412.05 L139.30 412.09 L139.60 412.14 L139.90 412.18 L140.20 412.23 L140.50 412.28 L140.80 412.33 L141.10 412.38 M142.60 412.62 L142.90 412.67 L143.20 412.72 L143.50 412.77 M145.00 413.03 L145.30 413.09 L145.60 413.14 L145.90 413.19 L146.20 413.25 L146.50 413.30 L146.80 413.35 L147.10 413.41 L147.40 413.46 L147.70 413.52 L148.00 413.57 L148.30 413.63 L148.60 413.68 L148.90 413.74 L149.20 413.79 L149.50 413.85 L149.80 413.90 L150.10 413.96 M151.60 414.24 L151.90 414.30 L152.20 414.35 L152.50 414.41 M154.00 414.69 L154.30 414.75 L154.60 414.80 L154.90 414.86 L155.20 414.92 L155.50 414.97 L155.80 415.03 L156.10 415.09 L156.40 415.14 L156.70 415.20 L157.00 415.26 L157.30 415.31 L157.60 415.37 L157.90 415.42 L158.20 415.48 L158.50 415.53 L158.80 415.59 L159.10 415.64 M160.60 415.93 L160.90 415.98 L161.20 416.04 L161.50 416.10 M163.00 416.39 L163.30 416.45 L163.60 416.50 L163.90 416.56 L164.20 416.62 L164.50 416.68 L164.80 416.74 L165.10 416.80 L165.40 416.86 L165.70 416.92 L166.00 416.98 L166.30 417.04 L166.60 417.10 L166.90 417.16 L167.20 417.22 L167.50 417.29 L167.80 417.35 L168.10 417.41 M169.60 417.72 L169.90 417.78 L170.20 417.84 L170.50 417.90 M172.00 418.22 L172.30 418.28 L172.60 418.34 L172.90 418.40 L173.20 418.47 L173.50 418.53 L173.80 418.59 L174.10 418.66 L174.40 418.72 L174.70 418.78 L175.00 418.84 L175.30 418.91 L175.60 418.97 L175.90 419.03 L176.20 419.10 L176.50 419.16 L176.80 419.22 L177.10 419.29 M178.60 419.60 L178.90 419.66 L179.20 419.73 L179.50 419.79 M181.00 420.10 L181.30 420.16 L181.60 420.22 L181.90 420.29 L182.20 420.35 L182.50 420.41 L182.80 420.47 L183.10 420.53 L183.40 420.59 L183.70 420.66 L184.00 420.72 L184.30 420.78 L184.60 420.84 L184.90 420.90 L185.20 420.96 L185.50 421.02 L185.80 421.09 L186.10 421.15 M187.60 421.46 L187.90 421.52 L188.20 421.59 L188.50 421.65 M190.00 421.97 L190.30 422.04 L190.60 422.10 L190.90 422.17 L191.20 422.24 L191.50 422.31 L191.80 422.37 L192.10 422.44 L192.40 422.51 L192.70 422.58 L193.00 422.65 L193.30 422.72 L193.60 422.79 L193.90 422.86 L194.20 422.94 L194.50 423.01 L194.80 423.08 L195.10 423.15 M196.60 423.51 L196.90 423.58 L197.20 423.65 L197.50 423.72 M199.00 424.08 L199.30 424.15 L199.60 424.22 L199.90 424.30 L200.20 424.37 L200.50 424.44 L200.80 424.52 L201.10 424.59 L201.40 424.67 L201.70 424.74 L202.00 424.82 L202.30 424.90 L202.60 424.98 L202.90 425.06 L203.20 425.14 L203.50 425.22 L203.80 425.31 L204.10 425.39 M205.60 425.83 L205.90 425.92 L206.20 426.01 L206.50 426.10 M208.00 426.57 L208.30 426.67 L208.60 426.76 L208.90 426.86 L209.20 426.96 L209.50 427.06 L209.80 427.16 L210.10 427.26 L210.40 427.36 L210.70 427.46 L211.00 427.57 L211.30 427.67 L211.60 427.77 L211.90 427.88 L212.20 427.98 L212.50 428.09 L212.80 428.19 L213.10 428.30 M214.60 428.83 L214.90 428.94 L215.20 429.05 L215.50 429.16 M217.00 429.70 L217.30 429.81 L217.60 429.92 L217.90 430.03 L218.20 430.14 L218.50 430.25 L218.80 430.36 L219.10 430.47 L219.40 430.58 L219.70 430.69 L220.00 430.81 L220.30 430.92 L220.60 431.03 L220.90 431.14 L221.20 431.25 L221.50 431.36 L221.80 431.48 L222.10 431.59 M223.60 432.15 L223.90 432.26 L224.20 432.38 L224.50 432.49 M226.00 433.06 L226.30 433.17 L226.60 433.28 L226.90 433.40 L227.20 433.51 L227.50 433.63 L227.80 433.74 L228.10 433.86 L228.40 433.97 L228.70 434.08 L229.00 434.20 L229.30 434.31 L229.60 434.43 L229.90 434.55 L230.20 434.66 L230.50 434.78 L230.80 434.89 L231.10 435.01 M232.60 435.59 L232.90 435.71 L233.20 435.82 L233.50 435.94 M235.00 436.53 L235.30 436.65 L235.60 436.77 L235.90 436.89 L236.20 437.01 L236.50 437.13 L236.80 437.25 L237.10 437.37 L237.40 437.50 L237.70 437.62 L238.00 437.75 L238.30 437.88 L238.60 438.01 L238.90 438.14 L239.20 438.28 L239.50 438.42 L239.80 438.56 L240.10 438.70 M241.60 439.46 L241.90 439.62 L242.20 439.77 L242.50 439.93 M244.00 440.66 L244.30 440.80 L244.60 440.94 L244.90 441.08 L245.20 441.22 L245.50 441.36 L245.80 441.49 L246.10 441.63 L246.40 441.76 L246.70 441.90 L247.00 442.03 L247.30 442.16 L247.60 442.30 L247.90 442.43 L248.20 442.56 L248.50 442.69 L248.80 442.83 L249.10 442.96 M250.60 443.62 L250.90 443.75 L251.20 443.88 L251.50 444.02 M253.00 444.68 L253.30 444.81 L253.60 444.95 L253.90 445.08 L254.20 445.21 L254.50 445.35 L254.80 445.48 L255.10 445.62 L255.40 445.75 L255.70 445.89 L256.00 446.03 L256.30 446.16 L256.60 446.30 L256.90 446.44 L257.20 446.58 L257.50 446.71 L257.80 446.85 L258.10 446.99 M259.60 447.70 L259.90 447.85 L260.20 448.00 L260.50 448.14 M262.00 448.90 L262.30 449.05 L262.60 449.21 L262.90 449.36 L263.20 449.52 L263.50 449.68 L263.80 449.84 L264.10 450.00 L264.40 450.16 L264.70 450.32 L265.00 450.49 L265.30 450.65 L265.60 450.82 L265.90 450.98 L266.20 451.15 L266.50 451.32 L266.80 451.48 L267.10 451.65 M268.60 452.51 L268.90 452.68 L269.20 452.85 L269.50 453.03 M271.00 453.90 L271.30 454.07 L271.60 454.25 L271.90 454.42 L272.20 454.59 L272.50 454.77 L272.80 454.94 L273.10 455.12 L273.40 455.29 L273.70 455.46 L274.00 455.63 L274.30 455.81 L274.60 455.98 L274.90 456.15 L275.20 456.32 L275.50 456.49 L275.80 456.66 L276.10 456.83 M277.60 457.68 L277.90 457.85 L278.20 458.03 L278.50 458.20 M280.00 459.05 L280.30 459.23 L280.60 459.40 L280.90 459.57 L281.20 459.75 L281.50 459.92 L281.80 460.09 L282.10 460.27 L282.40 460.44 L282.70 460.62 L283.00 460.80 L283.30 460.98 L283.60 461.16 L283.90 461.34 L284.20 461.52 L284.50 461.70 L284.80 461.88 L285.10 462.07 M286.60 463.01 L286.90 463.20 L287.20 463.40 L287.50 463.59 M289.00 464.60 L289.30 464.80 L289.60 465.01 L289.90 465.22 L290.20 465.43 L290.50 465.64 L290.80 465.86 L291.10 466.07 L291.40 466.29 L291.70 466.51 L292.00 466.73 L292.30 466.95 L292.60 467.17 L292.90 467.40 L293.20 467.62 L293.50 467.85 L293.80 468.07 L294.10 468.30 M295.60 469.46 L295.90 469.69 L296.20 469.93 L296.50 470.16 M298.00 471.38 L298.30 471.63 L298.60 471.88 L298.90 472.14 L299.20 472.40 L299.50 472.66 L299.80 472.92 L300.10 473.18 L300.40 473.44 L300.70 473.70 L301.00 473.97 L301.30 474.23 L301.60 474.49 L301.90 474.75 L302.20 475.01 L302.50 475.27 L302.80 475.52 L303.10 475.78 M304.60 477.01 L304.90 477.25 L305.20 477.49 L305.50 477.73 M307.00 478.88 L307.30 479.11 L307.60 479.34 L307.90 479.56 L308.20 479.79 L308.50 480.01 L308.80 480.24 L309.10 480.46 L309.40 480.69 L309.70 480.91 L310.00 481.13 L310.30 481.35 L310.60 481.58 L310.90 481.80 L311.20 482.02 L311.50 482.24 L311.80 482.46 L312.10 482.68 M313.60 483.79 L313.90 484.01 L314.20 484.24 L314.50 484.46 M316.00 485.58 L316.30 485.80 L316.60 486.03 L316.90 486.26 L317.20 486.49 L317.50 486.72 L317.80 486.95 L318.10 487.19 L318.40 487.42 L318.70 487.65 L319.00 487.89 L319.30 488.12 L319.60 488.36 L319.90 488.59 L320.20 488.83 L320.50 489.06 L320.80 489.30 L321.10 489.53 M322.60 490.69 L322.90 490.92 L323.20 491.15 L323.50 491.38 M325.00 492.48 L325.30 492.70 L325.60 492.91 L325.90 493.11 L326.20 493.32 L326.50 493.52 L326.80 493.71 L327.10 493.90 L327.40 494.07 L327.70 494.24 L328.00 494.40 L328.30 494.55 L328.60 494.69 L328.90 494.81 L329.20 494.93 L329.50 495.04 L329.80 495.15 L330.10 495.24 M331.60 495.67 L331.90 495.76 L332.20 495.86 L332.50 495.97 M334.00 496.79 L334.30 497.02 L334.60 497.30 L334.90 497.65 L335.20 498.04 L335.50 498.43 L335.80 498.79 L336.10 499.12 L336.40 499.43 L336.70 499.73 L337.00 500.02 L337.30 500.30 L337.60 500.57 L337.90 500.83 L338.20 501.09 L338.50 501.35 L338.80 501.60 L339.10 501.86 M340.60 503.10 L340.90 503.34 L341.20 503.59 L341.50 503.83 M343.00 505.05 L343.30 505.29 L343.60 505.54 L343.90 505.78 L344.20 506.02 L344.50 506.26 L344.80 506.51 L345.10 506.75 L345.40 506.99 L345.70 507.24 L346.00 507.48 L346.30 507.72 L346.60 507.97 L346.90 508.21 L347.20 508.45 L347.50 508.70 L347.80 508.94 L348.10 509.19 M349.60 510.42 L349.90 510.67 L350.20 510.92 L350.50 511.17 M352.00 512.43 L352.30 512.69 L352.60 512.95 L352.90 513.21 L353.20 513.47 L353.50 513.73 L353.80 513.99 L354.10 514.26 L354.40 514.53 L354.70 514.81 L355.00 515.09 L355.30 515.37 L355.60 515.65 L355.90 515.95 L356.20 516.25 L356.50 516.55 L356.80 516.87 L357.10 517.19 M358.60 518.95 L358.90 519.31 L359.20 519.67 L359.50 520.03 M361.00 521.71 L361.30 522.03 L361.60 522.35 L361.90 522.66 L362.20 522.97 L362.50 523.28 L362.80 523.59 L363.10 523.89 L363.40 524.19 L363.70 524.49 L364.00 524.78 L364.30 525.08 L364.60 525.38 L364.90 525.67 L365.20 525.97 L365.50 526.26 L365.80 526.56 L366.10 526.85 M367.60 528.32 L367.90 528.62 L368.20 528.91 L368.50 529.20 M370.00 530.66 L370.30 530.96 L370.60 531.25 L370.90 531.54 L371.20 531.83 L371.50 532.12 L371.80 532.41 L372.10 532.71 L372.40 533.00 L372.70 533.29 L373.00 533.58 L373.30 533.87 L373.60 534.16 L373.90 534.45 L374.20 534.74 L374.50 535.03 L374.80 535.32 L375.10 535.61 M376.60 537.06 L376.90 537.34 L377.20 537.63 L377.50 537.92 M379.00 539.36 L379.30 539.65 L379.60 539.94 L379.90 540.22 L380.20 540.51 L380.50 540.80 L380.80 541.08 L381.10 541.37 L381.40 541.66 L381.70 541.94 L382.00 542.23 L382.30 542.51 L382.60 542.80 L382.90 543.08 L383.20 543.37 L383.50 543.65 L383.80 543.94 L384.10 544.22 M385.60 545.63 L385.90 545.92 L386.20 546.20 L386.50 546.48 M388.00 547.88 L388.30 548.15 L388.60 548.43 L388.90 548.71 L389.20 548.98 L389.50 549.26 L389.80 549.53 L390.10 549.80 L390.40 550.07 L390.70 550.34 L391.00 550.61 L391.30 550.88 L391.60 551.15 L391.90 551.41 L392.20 551.67 L392.50 551.94 L392.80 552.20 L393.10 552.46 M394.60 553.74 L394.90 553.99 L395.20 554.25 L395.50 554.50 M397.00 555.74 L397.30 555.98 L397.60 556.23 L397.90 556.47 L398.20 556.72 L398.50 556.96 L398.80 557.20 L399.10 557.45 L399.40 557.69 L399.70 557.93 L400.00 558.17 L400.30 558.42 L400.60 558.66 L400.90 558.90 L401.20 559.14 L401.50 559.39 L401.80 559.63 L402.10 559.88 M403.60 561.13 L403.90 561.38 L404.20 561.64 L404.50 561.90 M406.00 563.22 L406.30 563.48 L406.60 563.74 L406.90 564.01 L407.20 564.27 L407.50 564.53 L407.80 564.80 L408.10 565.06 L408.40 565.33 L408.70 565.60 L409.00 565.87 L409.30 566.13 L409.60 566.40 L409.90 566.68 L410.20 566.95 L410.50 567.23 L410.80 567.51 L411.10 567.79 M412.60 569.24 L412.90 569.54 L413.20 569.84 L413.50 570.15 M415.00 571.74 L415.30 572.07 L415.60 572.40 L415.90 572.75 L416.20 573.09 L416.50 573.45 L416.80 573.81 L417.10 574.17 L417.40 574.54 L417.70 574.91 L418.00 575.29 L418.30 575.67 L418.60 576.05 L418.90 576.44 L419.20 576.82 L419.50 577.21 L419.80 577.60 L420.10 577.98 M421.60 579.91 L421.90 580.29 L422.20 580.67 L422.50 581.05 M424.00 582.86 L424.30 583.21 L424.60 583.55 L424.90 583.88 L425.20 584.21 L425.50 584.54 L425.80 584.87 L426.10 585.20 L426.40 585.53 L426.70 585.85 L427.00 586.18 L427.30 586.50 L427.60 586.82 L427.90 587.14 L428.20 587.46 L428.50 587.77 L428.80 588.09 L429.10 588.40 M430.60 589.92 L430.90 590.22 L431.20 590.51 L431.50 590.81 M433.00 592.21 L433.30 592.47 L433.60 592.73 L433.90 592.99 L434.20 593.24 L434.50 593.48 L434.80 593.70 L435.10 593.92 L435.40 594.11 L435.70 594.27 L436.00 594.41 L436.30 594.53 L436.60 594.63 L436.90 594.71 L437.20 594.77 L437.50 594.82 L437.80 594.86 L438.10 594.88 M439.60 595.14 L439.90 595.27 L440.20 595.44 L440.50 595.67 M442.00 597.76 L442.30 598.34 L442.60 598.96 L442.90 599.59 L443.20 600.22 L443.50 600.81 L443.80 601.36 L444.10 601.86 L444.40 602.29 L444.70 602.66 L445.00 602.95 L445.30 603.18 L445.60 603.36 L445.90 603.49 L446.20 603.60 L446.50 603.67 L446.80 603.73 L447.10 603.78 M448.60 604.04 L448.90 604.12 L449.20 604.24 L449.50 604.38 M451.00 605.61 L451.30 605.95 L451.60 606.32 L451.90 606.71 L452.20 607.12 L452.50 607.55 L452.80 607.99 L453.10 608.44 L453.40 608.89 L453.70 609.34 L454.00 609.79 L454.30 610.24 L454.60 610.68 L454.90 611.11 L455.20 611.53 L455.50 611.94 L455.80 612.34 L456.10 612.73 M457.60 614.51 L457.90 614.85 L458.20 615.18 L458.50 615.51 M460.00 617.14 L460.30 617.46 L460.60 617.77 L460.90 618.09 L461.20 618.41 L461.50 618.72 L461.80 619.03 L462.10 619.34 L462.40 619.66 L462.70 619.97 L463.00 620.27 L463.30 620.58 L463.60 620.89 L463.90 621.20 L464.20 621.50 L464.50 621.81 L464.80 622.11 L465.10 622.42 M466.60 623.93 L466.90 624.23 L467.20 624.53 L467.50 624.83 M469.00 626.31 L469.30 626.59 L469.60 626.88 L469.90 627.17 L470.20 627.45 L470.50 627.73 L470.80 628.01 L471.10 628.29 L471.40 628.57 L471.70 628.85 L472.00 629.12 L472.30 629.40 L472.60 629.67 L472.90 629.95 L473.20 630.22 L473.50 630.49 L473.80 630.77 L474.10 631.04 M475.60 632.42 L475.90 632.70 L476.20 632.98 L476.50 633.26 M478.00 634.72 L478.30 635.03 L478.60 635.37 L478.90 635.72 L479.20 636.10 L479.50 636.51 L479.80 636.97 L480.10 637.45 L480.40 637.93 L480.70 638.35 L481.00 638.70 L481.30 638.98 L481.60 639.23 L481.90 639.43 L482.20 639.61 L482.50 639.76 L482.80 639.89 L483.10 640.02 M484.60 640.57 L484.90 640.68 L485.20 640.81 L485.50 640.95 M487.00 641.96 L487.30 642.27 L487.60 642.61 L487.90 643.01 L488.20 643.44 L488.50 643.91 L488.80 644.41 L489.10 644.93 L489.40 645.46 L489.70 645.98 L490.00 646.50 L490.30 646.98 L490.60 647.45 L490.90 647.88 L491.20 648.29 L491.50 648.67 L491.80 649.05 L492.10 649.42 M493.60 651.20 L493.90 651.53 L494.20 651.85 L494.50 652.17 M496.00 653.69 L496.30 653.99 L496.60 654.28 L496.90 654.57 L497.20 654.87 L497.50 655.16 L497.80 655.45 L498.10 655.74 L498.40 656.03 L498.70 656.31 L499.00 656.60 L499.30 656.88 L499.60 657.17 L499.90 657.45 L500.20 657.73 L500.50 658.01 L500.80 658.30 L501.10 658.58 M502.60 659.98 L502.90 660.26 L503.20 660.54 L503.50 660.81 M505.00 662.21 L505.30 662.48 L505.60 662.76 L505.90 663.04 L506.20 663.32 L506.50 663.59 L506.80 663.87 L507.10 664.15 L507.40 664.43 L507.70 664.70 L508.00 664.98 L508.30 665.26 L508.60 665.53 L508.90 665.81 L509.20 666.09 L509.50 666.36 L509.80 666.64 L510.10 666.92 M511.60 668.30 L511.90 668.57 L512.20 668.85 L512.50 669.12 M514.00 670.50 L514.30 670.78 L514.60 671.06 L514.90 671.33 L515.20 671.61 L515.50 671.88 L515.80 672.16 L516.10 672.44 L516.40 672.71 L516.70 672.99 L517.00 673.27 L517.30 673.55 L517.50 673.73" fill="none" stroke="#00ffff" stroke-width="1.25"/>
<circle cx="56.00" cy="409.70" r="2.4" fill="none" stroke="#000" stroke-width="1.15"/><rect x="55.50" y="409.20" width="1" height="1" fill="#000"/>
<circle cx="81.64" cy="409.70" r="2.4" fill="none" stroke="#000" stroke-width="1.15"/><rect x="81.14" y="409.20" width="1" height="1" fill="#000"/>
<circle cx="107.28" cy="409.70" r="2.4" fill="none" stroke="#000" stroke-width="1.15"/><rect x="106.78" y="409.20" width="1" height="1" fill="#000"/>
<circle cx="132.92" cy="411.23" r="2.4" fill="none" stroke="#000" stroke-width="1.15"/><rect x="132.42" y="410.73" width="1" height="1" fill="#000"/>
<circle cx="158.56" cy="416.31" r="2.4" fill="none" stroke="#000" stroke-width="1.15"/><rect x="158.06" y="415.81" width="1" height="1" fill="#000"/>
<circle cx="184.19" cy="422.40" r="2.4" fill="none" stroke="#000" stroke-width="1.15"/><rect x="183.69" y="421.90" width="1" height="1" fill="#000"/>
<circle cx="209.83" cy="431.54" r="2.4" fill="none" stroke="#000" stroke-width="1.15"/><rect x="209.33" y="431.04" width="1" height="1" fill="#000"/>
<circle cx="235.47" cy="442.81" r="2.4" fill="none" stroke="#000" stroke-width="1.15"/><rect x="234.97" y="442.31" width="1" height="1" fill="#000"/>
<circle cx="261.11" cy="456.16" r="2.4" fill="none" stroke="#000" stroke-width="1.15"/><rect x="260.61" y="455.66" width="1" height="1" fill="#000"/>
<circle cx="286.75" cy="471.04" r="2.4" fill="none" stroke="#000" stroke-width="1.15"/><rect x="286.25" y="470.54" width="1" height="1" fill="#000"/>
<circle cx="312.39" cy="487.90" r="2.4" fill="none" stroke="#000" stroke-width="1.15"/><rect x="311.89" y="487.40" width="1" height="1" fill="#000"/>
<circle cx="338.03" cy="507.75" r="2.4" fill="none" stroke="#000" stroke-width="1.15"/><rect x="337.53" y="507.25" width="1" height="1" fill="#000"/>
<circle cx="363.67" cy="528.82" r="2.4" fill="none" stroke="#000" stroke-width="1.15"/><rect x="363.17" y="528.32" width="1" height="1" fill="#000"/>
<circle cx="389.31" cy="552.89" r="2.4" fill="none" stroke="#000" stroke-width="1.15"/><rect x="388.81" y="552.39" width="1" height="1" fill="#000"/>
<circle cx="414.94" cy="578.63" r="2.4" fill="none" stroke="#000" stroke-width="1.15"/><rect x="414.44" y="578.13" width="1" height="1" fill="#000"/>
<circle cx="440.58" cy="604.02" r="2.4" fill="none" stroke="#000" stroke-width="1.15"/><rect x="440.08" y="603.52" width="1" height="1" fill="#000"/>
<circle cx="466.22" cy="629.35" r="2.4" fill="none" stroke="#000" stroke-width="1.15"/><rect x="465.72" y="628.85" width="1" height="1" fill="#000"/>
<circle cx="491.86" cy="654.89" r="2.4" fill="none" stroke="#000" stroke-width="1.15"/><rect x="491.36" y="654.39" width="1" height="1" fill="#000"/>
<circle cx="517.50" cy="680.33" r="2.4" fill="none" stroke="#000" stroke-width="1.15"/><rect x="517.00" y="679.83" width="1" height="1" fill="#000"/>
<text transform="translate(56.00 735.55) scale(0.9456 1)" text-anchor="middle">-9</text>
<text transform="translate(107.28 735.55) scale(0.9456 1)" text-anchor="middle">-8</text>
<text transform="translate(158.56 735.55) scale(0.9456 1)" text-anchor="middle">-7</text>
<text transform="translate(209.83 735.55) scale(0.9456 1)" text-anchor="middle">-6</text>
<text transform="translate(261.11 735.55) scale(0.9456 1)" text-anchor="middle">-5</text>
<text transform="translate(312.39 735.55) scale(0.9456 1)" text-anchor="middle">-4</text>
<text transform="translate(363.67 735.55) scale(0.9456 1)" text-anchor="middle">-3</text>
<text transform="translate(414.94 735.55) scale(0.9456 1)" text-anchor="middle">-2</text>
<text transform="translate(466.22 735.55) scale(0.9456 1)" text-anchor="middle">-1</text>
<text transform="translate(519.50 735.55) scale(0.9456 1)" text-anchor="middle">0</text>
<text transform="translate(46.70 720.15) scale(0.9456 1)" text-anchor="end">-6</text>
<text transform="translate(46.70 669.38) scale(0.9456 1)" text-anchor="end">-5</text>
<text transform="translate(46.70 618.60) scale(0.9456 1)" text-anchor="end">-4</text>
<text transform="translate(46.70 567.83) scale(0.9456 1)" text-anchor="end">-3</text>
<text transform="translate(46.70 517.05) scale(0.9456 1)" text-anchor="end">-2</text>
<text transform="translate(46.70 466.28) scale(0.9456 1)" text-anchor="end">-1</text>
<text transform="translate(46.70 415.50) scale(0.9456 1)" text-anchor="end">0</text>
<text transform="translate(286.75 757.35) scale(0.9456 1)" text-anchor="middle">ν-U/2</text>
<text transform="translate(15.6 557.45) rotate(-90) scale(0.9456 1)" text-anchor="middle">E<tspan dy="4.5" font-size="12.6">g</tspan><tspan dy="-4.5">/N</tspan></text>
<text transform="translate(273.20 631.35) scale(0.9456 1)" text-anchor="end">RRG, C=3, N=12, U=5: MF</text>
<text transform="translate(273.20 646.51) scale(0.9456 1)" text-anchor="end">Global</text>
<text transform="translate(273.20 661.67) scale(0.9456 1)" text-anchor="end">Exact</text>
<text transform="translate(273.20 676.83) scale(0.9456 1)" text-anchor="end">U=10: MF</text>
<text transform="translate(273.20 691.99) scale(0.9456 1)" text-anchor="end">Global</text>
<text transform="translate(273.20 707.15) scale(0.9456 1)" text-anchor="end">Exact</text>
<path d="M283.30 626.45 H297.20" fill="none" stroke="#ff0000" stroke-width="1.45"/>
<path d="M283.30 641.61 H297.20" fill="none" stroke="#00ff00" stroke-width="1.45" stroke-dasharray="2.9 1.7"/>
<rect x="287.95" y="654.47" width="4.60" height="4.60" fill="none" stroke="#0000ff" stroke-width="1.25"/><rect x="289.75" y="656.27" width="1" height="1" fill="#0000ff"/>
<path d="M283.30 671.93 H297.20" fill="none" stroke="#ff00ff" stroke-width="1.2" stroke-dasharray="1 1"/>
<path d="M283.30 687.09 H297.20" fill="none" stroke="#00ffff" stroke-width="1.25" stroke-dasharray="5.0 1.2 1.3 1.2"/>
<circle cx="290.25" cy="702.25" r="2.4" fill="none" stroke="#000" stroke-width="1.15"/><rect x="289.75" y="701.75" width="1" height="1" fill="#000"/>
</svg>
</body></html>
